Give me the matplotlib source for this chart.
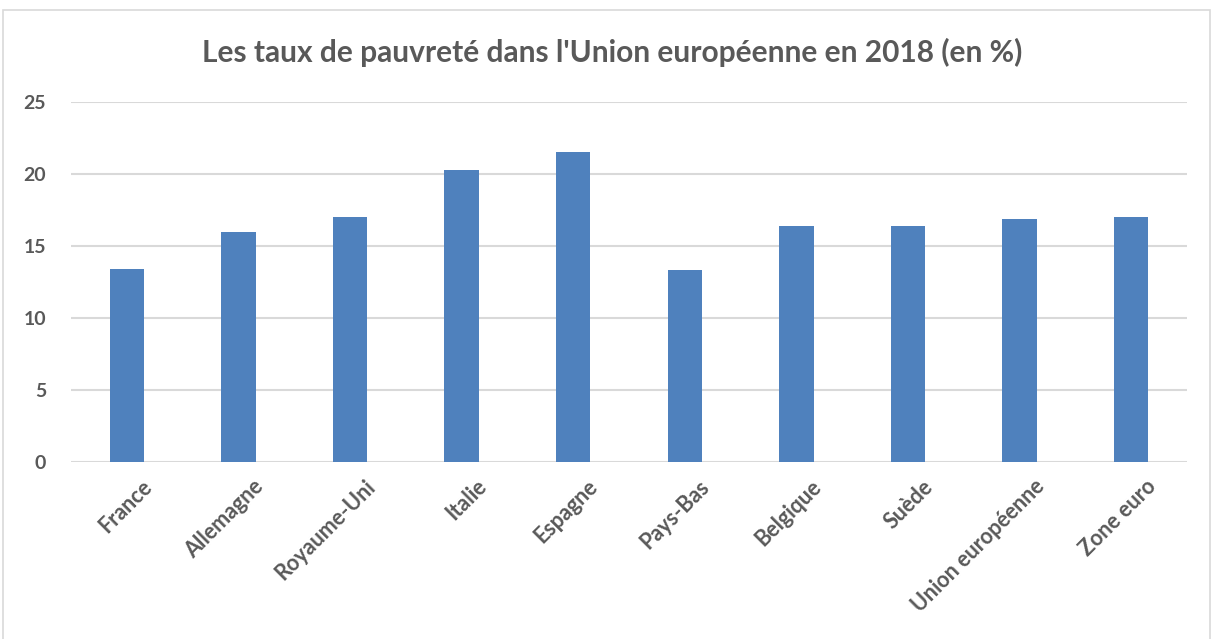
import matplotlib
matplotlib.use('Agg')
from matplotlib import pyplot as plt
from matplotlib.patches import Rectangle
import matplotlib.transforms as mtransforms
import numpy as np

pays = ['France', 'Allemagne', 'Royaume-Uni', 'Italie', 'Espagne',
        'Pays-Bas', 'Belgique', 'Suède', 'Union européenne', 'Zone euro']
taux = [13.4, 16.0, 17.0, 20.3, 21.5, 13.3, 16.4, 16.4, 16.9, 17.0]
y_ticks = [0, 5, 10, 15, 20, 25]

plt.rcParams['font.family'] = ['Lato', 'DejaVu Sans']
gris = '#595959'

fig = plt.figure(figsize=(12.13, 6.39), dpi=100)
# outer chart border
fig.patches.append(Rectangle((3 / 1213, -0.01), 1207 / 1213, 1 - 10 / 639 + 0.01,
                             transform=fig.transFigure, fill=False,
                             edgecolor='#d9d9d9', linewidth=1.2))

ax = fig.add_axes([71 / 1213, 1 - 462 / 639, 1116 / 1213, 360 / 639])
x = np.arange(len(pays))
ax.bar(x, taux, width=0.31, color='#4f81bd', zorder=3)

ax.set_xlim(-0.5, len(pays) - 0.5)
ax.set_ylim(0, 25)
ax.set_yticks(y_ticks)
ax.set_yticklabels([str(t) for t in y_ticks], fontsize=14, fontweight='bold', color=gris)
ax.set_xticks(x)
ax.set_xticklabels(pays, rotation=45, ha='right', rotation_mode='anchor',
                   fontsize=15.5, fontweight='bold', color=gris)
ax.tick_params(axis='both', length=0)
ax.tick_params(axis='y', pad=18)
ax.tick_params(axis='x', pad=10)
shift = mtransforms.ScaledTranslation(14 / 100, 0, fig.dpi_scale_trans)
for lab in ax.get_xticklabels():
    lab.set_transform(lab.get_transform() + shift)
ax.grid(axis='y', color='#d9d9d9', linewidth=1.5, zorder=0)
for s in ax.spines.values():
    s.set_visible(False)

fig.text(612 / 1213, 1 - 52 / 639, "Les taux de pauvreté dans l'Union européenne en 2018 (en %)",
         ha='center', va='center', fontsize=21.5, fontweight='bold', color=gris)

fig.savefig('out.png', dpi=100)
